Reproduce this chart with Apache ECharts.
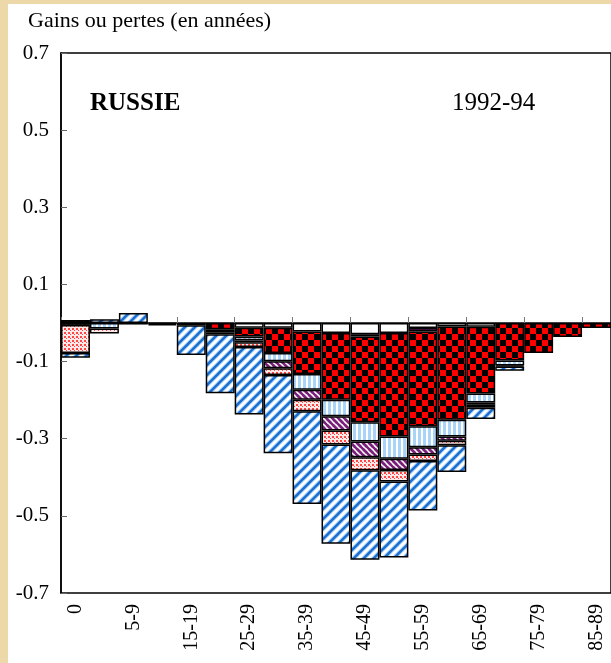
<!DOCTYPE html>
<html><head><meta charset="utf-8">
<script src="https://cdn.jsdelivr.net/npm/echarts@6/dist/echarts.min.js"></script>
<style>
html,body{margin:0;padding:0;width:611px;height:663px;overflow:hidden;background:#ecd8a8;}
#c{position:absolute;left:8px;top:4px;width:603px;height:659px;background:#fff;}
</style></head><body><div id="c"></div>
<script>
// ---- data ----
const categories = ['0','1-4','5-9','10-14','15-19','20-24','25-29','30-34','35-39','40-44','45-49','50-54','55-59','60-64','65-69','70-74','75-79','80-84','85-89'];
const yTickValues = [-0.7,-0.5,-0.3,-0.1,0.1,0.3,0.5,0.7];
const titleText = 'Gains ou pertes (en années)';
const countryText = 'RUSSIE';
const periodText = '1992-94';
// stacked components (order = from zero outward)
const blueGain   = [0.008, 0.010, 0.026, 0, 0, 0, 0, 0, 0, 0, 0, 0, 0, 0, 0, 0, 0, 0, 0];
const whitePart  = [-0.005, 0, 0, 0, 0, 0, -0.012, -0.012, -0.022, -0.026, -0.029, -0.026, -0.013, -0.009, -0.010, 0, 0, 0, 0];
const purpleThin = [0, 0, 0, 0, 0, 0, 0, 0, 0, 0, -0.006, 0, -0.009, 0, 0, 0, 0, 0, 0];
const checker    = [0, 0, 0, -0.003, -0.006, -0.016, -0.023, -0.066, -0.110, -0.173, -0.222, -0.268, -0.246, -0.242, -0.173, -0.097, -0.078, -0.036, -0.013];
const lightBlue  = [0, -0.014, 0, 0, 0, -0.008, -0.010, -0.021, -0.041, -0.043, -0.050, -0.058, -0.054, -0.043, -0.023, -0.013, 0, 0, 0];
const purpleDiag = [0, 0, 0, 0, 0, 0, -0.005, -0.018, -0.026, -0.037, -0.041, -0.029, -0.019, -0.011, -0.006, 0, 0, 0, 0];
const redDots    = [-0.073, -0.013, 0, 0, 0, -0.005, -0.012, -0.018, -0.030, -0.036, -0.034, -0.030, -0.017, -0.012, -0.008, -0.003, 0, 0, 0];
const blueLoss   = [-0.012, 0, -0.004, -0.003, -0.077, -0.153, -0.175, -0.203, -0.240, -0.257, -0.232, -0.197, -0.128, -0.069, -0.029, -0.011, 0, 0, 0];

// ---- patterns ----
function tile(w, h, draw){ const c=document.createElement('canvas'); c.width=w; c.height=h; const g=c.getContext('2d'); draw(g,w,h); return {image:c, repeat:'repeat'}; }
const patBlue = tile(10,10,(g,w,h)=>{
  g.fillStyle='#fff'; g.fillRect(0,0,w,h);
  const lines=[[-10,10,10,-10],[0,10,10,0],[0,20,20,0]];
  g.lineCap='square';
  g.strokeStyle='#a6cff4'; g.lineWidth=4.2;
  lines.forEach(l=>{g.beginPath();g.moveTo(l[0],l[1]);g.lineTo(l[2],l[3]);g.stroke();});
  g.strokeStyle='#1b6fd1'; g.lineWidth=2.4;
  lines.forEach(l=>{g.beginPath();g.moveTo(l[0],l[1]);g.lineTo(l[2],l[3]);g.stroke();});
});
const patChecker = tile(12,12,(g)=>{
  g.fillStyle='#ff0000'; g.fillRect(0,0,12,12);
  g.fillStyle='#000'; g.fillRect(0,0,6,6); g.fillRect(6,6,6,6);
});
const patLight = tile(5,5,(g)=>{
  g.fillStyle='#fff'; g.fillRect(0,0,5,5);
  g.fillStyle='#a9d3f7'; g.fillRect(0,0,3,5);
});
const patPurple = tile(6,6,(g)=>{
  g.fillStyle='#fff'; g.fillRect(0,0,6,6);
  g.strokeStyle='#7a1f7a'; g.lineWidth=2.5;
  [[-6,0,6,12],[0,0,6,6],[0,-6,12,6],[-6,-6,6,6]].forEach(l=>{g.beginPath();g.moveTo(l[0],l[1]);g.lineTo(l[2],l[3]);g.stroke();});
});
const patDots = tile(4,4,(g)=>{
  g.fillStyle='#ffeaea'; g.fillRect(0,0,4,4);
  g.fillStyle='#ff4545'; g.fillRect(0,0,2,2); g.fillRect(2,2,1,1);
});

const comps = [
  [blueGain, patBlue], [whitePart, '#ffffff'], [purpleThin, '#7a1f7a'], [checker, patChecker],
  [lightBlue, patLight], [purpleDiag, patPurple], [redDots, patDots], [blueLoss, patBlue]
];

const chart = echarts.init(document.getElementById('c'), null, {renderer:'canvas'});
const serif = 'Liberation Serif';
chart.setOption({
  animation:false,
  grid:{left:53, top:49, bottom:70, right:-5, show:true, borderColor:'#000', borderWidth:1.5, backgroundColor:'transparent'},
  title:{text:titleText, left:15, top:1, textStyle:{fontFamily:serif, fontSize:22, fontWeight:'normal', color:'#000'}},
  graphic:[
    {type:'text', left:82, top:87, style:{text:countryText, font:'bold 25px "Liberation Serif"', fill:'#000'}},
    {type:'text', left:444, top:87, style:{text:periodText, font:'25px "Liberation Serif"', fill:'#000'}}
  ],
  xAxis:[
    {type:'category', data:categories, position:'bottom',
     axisLine:{onZero:true, lineStyle:{color:'#000', width:1.5}},
     axisTick:{show:true, inside:true, length:6, lineStyle:{color:'#777'}},
     axisLabel:{show:false}, splitLine:{show:false}},
    {type:'category', data:categories, position:'bottom',
     axisLine:{show:false, onZero:false}, axisTick:{show:false},
     axisLabel:{interval:1, rotate:90, margin:11, fontFamily:serif, fontSize:20, color:'#000'}}
  ],
  yAxis:{type:'value', min:-0.7, max:0.7,
    axisLine:{show:true, lineStyle:{color:'#000', width:1.5}},
    axisTick:{show:true, inside:true, length:6, customValues:yTickValues, lineStyle:{color:'#666'}},
    axisLabel:{customValues:yTickValues, formatter:v=>v.toFixed(1), fontFamily:serif, fontSize:21, color:'#000', margin:12},
    splitLine:{show:false}},
  series: comps.map((c,i)=>({
    type:'bar', stack:'all', xAxisIndex:0, barCategoryGap:'0%',
    data:c[0].map(v=>v===0?null:v),
    itemStyle:{color:c[1], borderColor:'#000', borderWidth:1.5},
    emphasis:{disabled:true}
  }))
});
</script></body></html>
